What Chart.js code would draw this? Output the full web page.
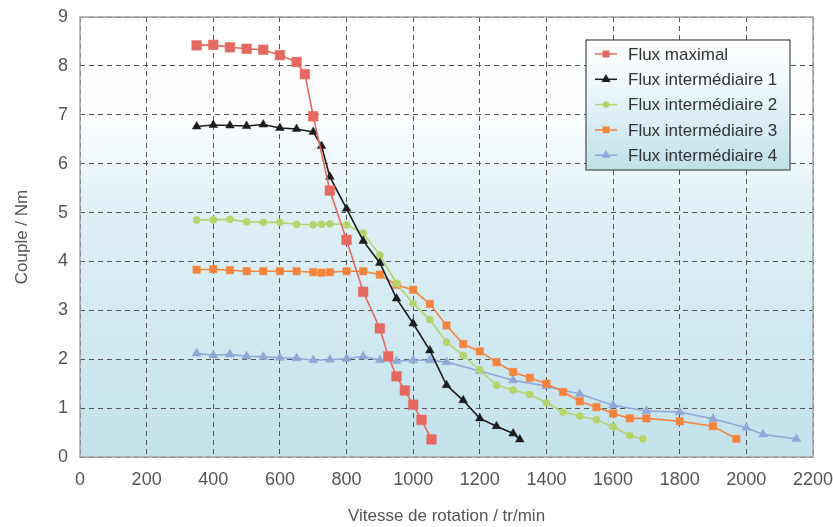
<!DOCTYPE html>
<html>
<head>
<meta charset="utf-8">
<script src="https://cdn.jsdelivr.net/npm/chart.js@4"></script>
<style>
  html, body { margin: 0; padding: 0; background: #fff; }
  #wrap { width: 833px; height: 527px; }
</style>
</head>
<body>
<div id="wrap"><canvas id="coupleChart" width="833" height="527"></canvas></div>
<script>
  // Couple vs vitesse de rotation
  const seriesNames = ['Flux maximal', 'Flux intermédiaire 1', 'Flux intermédiaire 2', 'Flux intermédiaire 3', 'Flux intermédiaire 4'];

  const maxX = [350, 400, 450, 500, 550, 600, 650, 675, 700, 750, 800, 850, 900, 925, 950, 975, 1000, 1025, 1055];
  const maxY = [8.42, 8.43, 8.38, 8.35, 8.33, 8.22, 8.08, 7.83, 6.97, 5.45, 4.44, 3.38, 2.63, 2.06, 1.65, 1.36, 1.07, 0.76, 0.36];

  const int1X = [350, 400, 450, 500, 550, 600, 650, 700, 725, 750, 800, 850, 900, 950, 1000, 1050, 1100, 1150, 1200, 1250, 1300, 1320];
  const int1Y = [6.76, 6.79, 6.78, 6.77, 6.80, 6.73, 6.71, 6.65, 6.36, 5.73, 5.08, 4.42, 3.97, 3.24, 2.73, 2.18, 1.47, 1.16, 0.79, 0.63, 0.48, 0.36];

  const int2X = [350, 400, 450, 500, 550, 600, 650, 700, 725, 750, 800, 850, 900, 950, 1000, 1050, 1100, 1150, 1200, 1250, 1300, 1350, 1400, 1450, 1500, 1550, 1600, 1650, 1690];
  const int2Y = [4.85, 4.85, 4.86, 4.81, 4.80, 4.80, 4.76, 4.75, 4.76, 4.77, 4.75, 4.58, 4.13, 3.55, 3.14, 2.81, 2.35, 2.08, 1.78, 1.47, 1.37, 1.28, 1.11, 0.92, 0.84, 0.76, 0.62, 0.44, 0.37];

  const int3X = [350, 400, 450, 500, 550, 600, 650, 700, 725, 750, 800, 850, 900, 950, 1000, 1050, 1100, 1150, 1200, 1250, 1300, 1350, 1400, 1450, 1500, 1550, 1600, 1650, 1700, 1800, 1900, 1970];
  const int3Y = [3.83, 3.84, 3.82, 3.80, 3.80, 3.80, 3.80, 3.78, 3.77, 3.78, 3.80, 3.80, 3.73, 3.52, 3.42, 3.13, 2.69, 2.31, 2.16, 1.94, 1.74, 1.62, 1.50, 1.33, 1.14, 1.02, 0.89, 0.79, 0.79, 0.73, 0.63, 0.37];

  const int4X = [350, 400, 450, 500, 550, 600, 650, 700, 750, 800, 850, 900, 950, 1000, 1050, 1100, 1200, 1300, 1400, 1500, 1600, 1700, 1800, 1900, 2000, 2050, 2150];
  const int4Y = [2.12, 2.08, 2.10, 2.06, 2.05, 2.03, 2.02, 1.98, 1.99, 2.01, 2.06, 1.98, 1.96, 1.98, 1.98, 1.94, 1.76, 1.57, 1.45, 1.29, 1.06, 0.94, 0.92, 0.78, 0.60, 0.46, 0.37];

  const xTicks = [0, 200, 400, 600, 800, 1000, 1200, 1400, 1600, 1800, 2000, 2200];
  const yTicks = [0, 1, 2, 3, 4, 5, 6, 7, 8, 9];

  const pts = (xs, ys) => xs.map((x, i) => ({ x: x, y: ys[i] }));

  const FONT = "'Liberation Sans', Arial, sans-serif";

  // gradient background + grey frame of the plot area
  const plotFrame = {
    id: 'plotFrame',
    beforeDraw(chart) {
      const { ctx, chartArea: a } = chart;
      const g = ctx.createLinearGradient(0, a.top, 0, a.bottom);
      g.addColorStop(0, '#ffffff');
      g.addColorStop(0.24, '#fcfeff');
      g.addColorStop(0.42, '#e0f1f7');
      g.addColorStop(1, '#c3e2ec');
      ctx.save();
      ctx.fillStyle = g;
      ctx.fillRect(a.left, a.top, a.right - a.left, a.bottom - a.top);
      ctx.restore();
    },
    beforeDatasetsDraw(chart) {
      const { ctx, chartArea: a } = chart;
      ctx.save();
      ctx.strokeStyle = '#a3a3a3';
      ctx.lineWidth = 1.5;
      ctx.strokeRect(a.left, a.top, a.right - a.left, a.bottom - a.top);
      ctx.restore();
    }
  };

  // boxed legend inside the plot, top right
  const boxLegend = {
    id: 'boxLegend',
    afterDraw(chart) {
      const { ctx, chartArea: a } = chart;
      const w = 204, h = 130;
      const x0 = a.right - 23 - w, y0 = a.top + 23;
      ctx.save();
      const g = ctx.createLinearGradient(0, y0, 0, y0 + h);
      g.addColorStop(0, '#ffffff');
      g.addColorStop(0.35, '#eef8fb');
      g.addColorStop(1, '#bfe0ea');
      ctx.fillStyle = g;
      ctx.fillRect(x0, y0, w, h);
      ctx.strokeStyle = '#4a4a4a';
      ctx.lineWidth = 1.2;
      ctx.strokeRect(x0, y0, w, h);
      chart.data.datasets.forEach((ds, i) => {
        const yy = y0 + 14 + i * 25.3;
        ctx.strokeStyle = ds.borderColor;
        ctx.lineWidth = 1.5;
        ctx.beginPath();
        ctx.moveTo(x0 + 9, yy);
        ctx.lineTo(x0 + 31, yy);
        ctx.stroke();
        ctx.fillStyle = ds.pointBackgroundColor;
        ctx.strokeStyle = ds.pointBackgroundColor;
        Chart.helpers.drawPoint(ctx, { pointStyle: ds.pointStyle, radius: ds.pointStyle === 'circle' ? 2.5 : 3.8, rotation: 0, borderWidth: 0.5 }, x0 + 20, yy);
        ctx.fillStyle = '#333';
        ctx.font = '17px ' + FONT;
        ctx.textBaseline = 'middle';
        ctx.textAlign = 'left';
        ctx.fillText(ds.label, x0 + 42, yy + 1);
      });
      ctx.restore();
    }
  };

  function series(i, data, color, style, r) {
    return {
      label: seriesNames[i],
      data: data,
      borderColor: color,
      backgroundColor: color,
      pointBackgroundColor: color,
      pointBorderColor: color,
      pointStyle: style,
      pointRadius: r,
      pointBorderWidth: 0.5,
      borderWidth: 1.6,
      tension: 0,
      fill: false
    };
  }

  new Chart(document.getElementById('coupleChart'), {
    type: 'line',
    data: {
      datasets: [
        series(0, pts(maxX, maxY), '#e5695f', 'rect', 6.8),
        series(1, pts(int1X, int1Y), '#1c1c1c', 'triangle', 5),
        series(2, pts(int2X, int2Y), '#b4d56c', 'circle', 3.6),
        series(3, pts(int3X, int3Y), '#f5843b', 'rect', 5.2),
        series(4, pts(int4X, int4Y), '#8fa8d6', 'triangle', 5.2)
      ]
    },
    options: {
      responsive: false,
      animation: false,
      layout: { padding: { left: 0, right: 20, top: 17, bottom: 0 } },
      plugins: {
        legend: { display: false },
        tooltip: { enabled: false }
      },
      scales: {
        x: {
          type: 'linear',
          min: 0,
          max: 2200,
          afterBuildTicks: s => { s.ticks = xTicks.map(v => ({ value: v })); },
          afterFit: s => { s.height = 70; s.paddingLeft = 0; s.paddingRight = 0; },
          grid: { color: '#555', lineWidth: 1, drawTicks: false },
          border: { display: false, dash: [5, 4] },
          ticks: { color: '#555', font: { family: FONT, size: 18 }, padding: 12, maxRotation: 0, callback: v => String(v) },
          title: { display: true, text: 'Vitesse de rotation / tr/min', color: '#555', font: { family: FONT, size: 17 }, padding: { top: 0, bottom: 0 } }
        },
        y: {
          type: 'linear',
          min: 0,
          max: 9,
          afterBuildTicks: s => { s.ticks = yTicks.map(v => ({ value: v })); },
          afterFit: s => { s.width = 80; s.paddingTop = 0; s.paddingBottom = 0; },
          grid: { color: '#555', lineWidth: 1, drawTicks: false },
          border: { display: false, dash: [5, 4] },
          ticks: { color: '#555', font: { family: FONT, size: 18 }, padding: 12, callback: v => String(v) },
          title: { display: true, text: 'Couple / Nm', color: '#555', font: { family: FONT, size: 17 }, padding: { top: 12, bottom: 0 } }
        }
      }
    },
    plugins: [plotFrame, boxLegend]
  });
</script>
</body>
</html>
